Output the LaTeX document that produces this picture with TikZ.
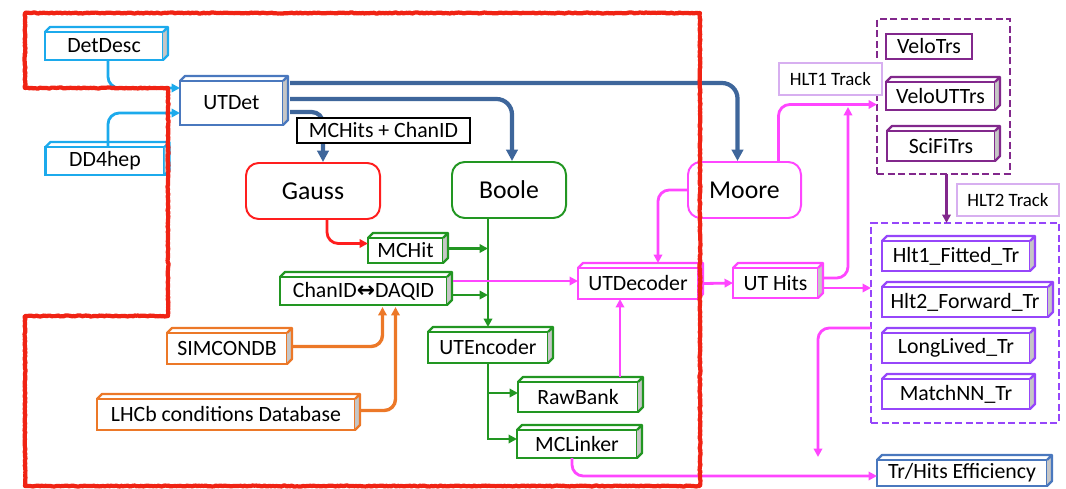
\documentclass[tikz,border=0pt]{standalone}
\usepackage{fontspec}
\setmainfont{Carlito}
\newfontfamily\arrowfont{DejaVu Sans}
\usetikzlibrary{arrows.meta,calc,decorations.pathmorphing}

\definecolor{detcyan}{RGB}{28,170,236}
\definecolor{detblue}{RGB}{74,120,190}
\definecolor{linkblue}{RGB}{62,102,155}
\definecolor{gaussred}{RGB}{255,30,30}
\definecolor{boolegreen}{RGB}{34,150,34}
\definecolor{mooremag}{RGB}{255,70,255}
\definecolor{dborange}{RGB}{236,120,40}
\definecolor{hltpurple}{RGB}{130,40,140}
\definecolor{hltviolet}{RGB}{150,70,250}
\definecolor{tagpurple}{RGB}{215,175,240}
\definecolor{framered}{RGB}{240,35,20}

% top and side faces of a raised box
\newcommand{\boxfaces}[2]{%
  \fill[gray!45] (#1.north east) -- ++(5,-5) -- ([shift={(5,-5)}]#1.south east) -- (#1.south east) -- cycle;
  \draw[#2, line width=1.6pt, line join=round] (#1.north west) -- ++(5,-5) -- ([shift={(5,-5)}]#1.north east)
    -- ([shift={(5,-5)}]#1.south east) -- (#1.south east) (#1.north east) -- ++(5,-5);
}

\tikzset{
  algbox/.style={draw=#1, line width=1.6pt, fill=white, outer sep=0pt, inner sep=0pt, text=black,
    font=\fontsize{15.5}{18}\selectfont},
  stage/.style={draw=#1, line width=1.4pt, rounded corners=9pt, fill=white, outer sep=0pt,
    minimum height=1.4cm, text=black, font=\fontsize{18.3}{22}\selectfont},
  tracktag/.style={draw=tagpurple, line width=0.8pt, fill=white, minimum height=0.8cm,
    font=\fontsize{13.4}{16}\selectfont},
  trackgroup/.style={draw=#1, line width=1.8pt, outer sep=0pt, dash pattern=on 5pt off 2.5pt},
  conn/.style={draw=#1, color=#1, line width=2pt, rounded corners=8pt, -{Triangle[length=6pt,width=6pt]}},
  greenconn/.style={conn=boolegreen, line width=1.5pt, sharp corners},
}

\begin{document}
\begin{tikzpicture}[x=0.025cm, y=-0.025cm]
\useasboundingbox (0,0) rectangle (1066,488);

% geometry and conditions
\node[algbox=detcyan, minimum width=2.95cm, minimum height=0.7cm] (detdesc) at (104,46) {DetDesc};
\node[algbox=detcyan, minimum width=2.975cm, minimum height=0.7cm] (dd4hep) at (105,161) {DD4hep};
\node[algbox=detblue, minimum width=2.575cm, minimum height=1.1cm] (utdet) at (231.5,103) {UTDet};
\node[algbox=dborange, minimum width=3cm, minimum height=0.775cm] (simcondb) at (227,348.5) {SIMCONDB};
\node[algbox=dborange, minimum width=6.45cm, minimum height=0.775cm] (lhcb) at (226,414.5) {LHCb conditions Database};

% applications
\node[stage=gaussred, minimum width=3.35cm] (gauss) at (313,191) {Gauss};
\node[stage=boolegreen, minimum width=2.85cm] (boole) at (509,190) {Boole};
\node[stage=mooremag, minimum width=2.825cm] (moore) at (744.5,190) {Moore};

% digitisation
\node[algbox=boolegreen, minimum width=1.875cm, minimum height=0.625cm] (mchit) at (405.5,250.5) {MCHit};
\node[algbox=boolegreen, minimum width=4.175cm, minimum height=0.7cm] (chanid) at (363.5,291) {ChanID{\arrowfont\bfseries ↔}DAQID};
\node[algbox=boolegreen, minimum width=3cm, minimum height=0.775cm] (utencoder) at (488,347.5) {UTEncoder};
\node[algbox=boolegreen, minimum width=3cm, minimum height=0.75cm] (rawbank) at (578,397) {RawBank};
\node[algbox=boolegreen, minimum width=3cm, minimum height=0.7cm] (mclinker) at (577,444) {MCLinker};

% trigger
\node[algbox=mooremag, minimum width=3cm, minimum height=0.775cm] (utdecoder) at (638,283.5) {UTDecoder};
\node[algbox=mooremag, minimum width=2.125cm, minimum height=0.75cm] (uthits) at (775.5,283) {UT Hits};

\node[trackgroup=hltpurple, minimum width=3.325cm, minimum height=3.875cm] (hltone) at (943.5,96.5) {};
\node[algbox=hltpurple, minimum width=2.15cm, minimum height=0.625cm] (velotrs) at (929,46.5) {VeloTrs};
\node[algbox=hltpurple, minimum width=2.725cm, minimum height=0.7cm] (veloutt) at (940.5,96) {VeloUTTrs};
\node[algbox=hltpurple, minimum width=2.7cm, minimum height=0.75cm] (scifi) at (941,146) {SciFiTrs};

\node[trackgroup=hltviolet, minimum width=4.7cm, minimum height=5cm] (hlttwo) at (965,323) {};
\node[algbox=hltviolet, minimum width=3.7cm, minimum height=0.75cm] (hltfit) at (956,256) {Hlt1\_Fitted\_Tr};
\node[algbox=hltviolet, minimum width=4.15cm, minimum height=0.75cm] (hltfwd) at (965,302) {Hlt2\_Forward\_Tr};
\node[algbox=hltviolet, minimum width=3.7cm, minimum height=0.75cm] (longlived) at (956,348) {LongLived\_Tr};
\node[algbox=hltviolet, minimum width=3.7cm, minimum height=0.75cm] (matchnn) at (956,394) {MatchNN\_Tr};

\node[algbox=detblue, minimum width=4.25cm, minimum height=0.65cm] (trhits) at (962,473) {Tr/Hits Efficiency};

\node[tracktag, minimum width=2.575cm] (hltonetag) at (830.5,79) {HLT1 Track};
\node[tracktag, minimum width=2.55cm] (hlttwotag) at (1008,200) {HLT2 Track};

\coordinate (hitsup) at (848,107);
\coordinate (effdrop) at (818,457);

\boxfaces{detdesc}{detcyan}
\boxfaces{dd4hep}{detcyan}
\boxfaces{utdet}{detblue}
\boxfaces{simcondb}{dborange}
\boxfaces{lhcb}{dborange}
\boxfaces{mchit}{boolegreen}
\boxfaces{chanid}{boolegreen}
\boxfaces{utencoder}{boolegreen}
\boxfaces{rawbank}{boolegreen}
\boxfaces{mclinker}{boolegreen}
\boxfaces{utdecoder}{mooremag}
\boxfaces{uthits}{mooremag}
\boxfaces{veloutt}{hltpurple}
\boxfaces{scifi}{hltpurple}
\boxfaces{hltfit}{hltviolet}
\boxfaces{hltfwd}{hltviolet}
\boxfaces{longlived}{hltviolet}
\boxfaces{matchnn}{hltviolet}
\boxfaces{trhits}{detblue}

% detector description into UTDet
\draw[conn=detcyan] ([shift={(4,0)}]detdesc.south) |- ([shift={(0,-15)}]utdet.west);
\draw[conn=detcyan] ([shift={(3,0)}]dd4hep.north) |- ([shift={(0,10)}]utdet.west);

% UTDet out to the applications
\draw[conn=linkblue, line width=3pt, rounded corners=11pt, -{Triangle[length=8pt,width=8pt]}]
  ([shift={(7,-20)}]utdet.east) -| ([shift={(-7,-1)}]moore.north);
\draw[conn=linkblue, line width=3pt, rounded corners=11pt, -{Triangle[length=8pt,width=8pt]}]
  ([shift={(7,-4)}]utdet.east) -| ([shift={(3,-1)}]boole.north);
\draw[conn=linkblue, line width=3pt, rounded corners=8pt, -{Triangle[length=8pt,width=8pt]}]
  ([shift={(7,9)}]utdet.east) -| ([shift={(10,-1)}]gauss.north);
\node[draw=black, line width=1.4pt, fill=white, minimum width=4.325cm, minimum height=0.625cm,
  inner sep=0pt, font=\fontsize{15.5}{18}\selectfont] (hitstag) at (383.5,130.5) {MCHits + ChanID};

% simulation and digitisation
\draw[conn=gaussred] ([shift={(14,0)}]gauss.south) |- ([shift={(0,-7)}]mchit.west);
\draw[greenconn] (boole.south -| utencoder.north) -- ([shift={(0,-5)}]utencoder.north);
\draw[greenconn] ([shift={(6,-2)}]mchit.east) -- ($(mchit.east -| utencoder.north)+(0,-2)$);
\draw[greenconn] ([shift={(6,4)}]chanid.east) -- ($(chanid.east -| utencoder.north)+(0,4)$);
\draw[greenconn] (utencoder.south) |- ([shift={(0,-4)}]rawbank.west);
\draw[greenconn] (utencoder.south) |- ([shift={(0,-5)}]mclinker.west);
\draw[conn=dborange, line width=2.4pt] ([shift={(5,-2)}]simcondb.east) -| ([shift={(19,2)}]chanid.south);
\draw[conn=dborange, line width=2.4pt] ([shift={(5,-4)}]lhcb.east) -| ([shift={(32,2)}]chanid.south);

% decoding and trigger
\draw[conn=mooremag, line width=1.6pt] ([shift={(6,-10)}]chanid.east) -- ($(chanid.east -| utdecoder.west)+(0,-10)$);
\draw[conn=mooremag, line width=1.6pt] ([shift={(42,-5)}]rawbank.north) coordinate (rbtop) -- (rbtop |- utdecoder.south);
\draw[conn=mooremag] ([shift={(-5,0)}]mclinker.south) |- ([shift={(0,3)}]trhits.west);
\draw[conn=mooremag] (moore.west) -| ([shift={(20,-5)}]utdecoder.north);
\draw[conn=mooremag] ([shift={(6,0)}]utdecoder.east) -- (uthits.west);
\draw[conn=mooremag] ([shift={(6,-5)}]uthits.east) -| (hitsup);
\draw[conn=mooremag] ([shift={(6,5)}]uthits.east) -- ($(uthits.east -| hlttwo.west)+(0,5)$);
\draw[conn=mooremag] ([shift={(34,0)}]moore.north) |- ([shift={(0,8)}]hltone.west);
\draw[conn=hltpurple, line width=1.8pt] ([shift={(3,0)}]hltone.south) coordinate (hdrop) -- (hdrop |- hlttwo.north);
\draw[conn=mooremag] ([shift={(0,5)}]hlttwo.west) -| (effdrop);

% hand drawn frame round the simulation side
\draw[framered, line width=3pt, line join=round, decorate,
  decoration={random steps, segment length=1.2pt, amplitude=0.35pt}]
  (25,13) -- (700,13) -- (700,486) -- (25,486) -- (25,316) -- (168,316) -- (168,88) -- (25,88) -- cycle;
\end{tikzpicture}
\end{document}
